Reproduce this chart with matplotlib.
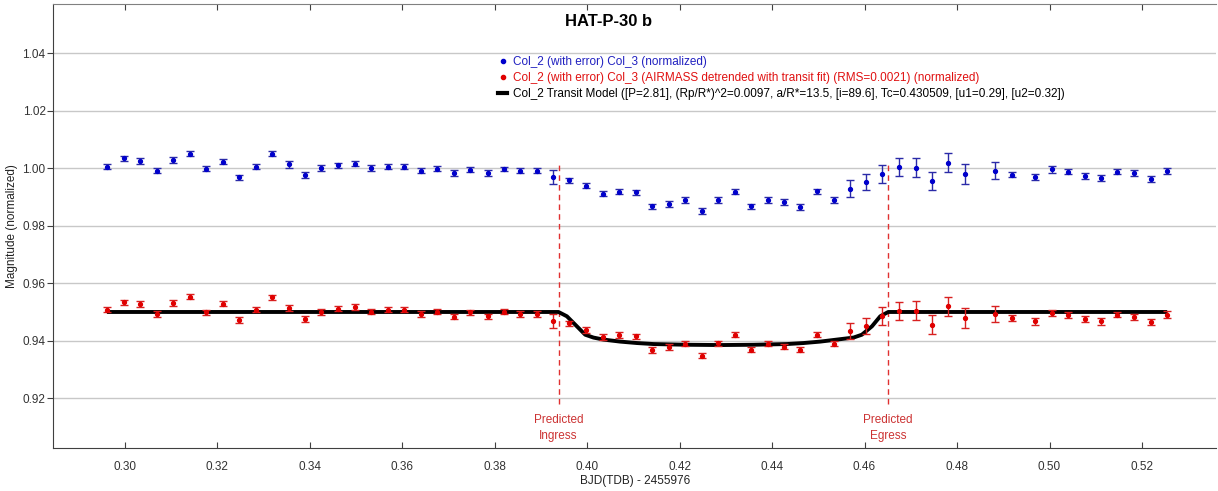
import matplotlib.pyplot as plt
from matplotlib.lines import Line2D

plt.rcParams['font.family'] = ['Liberation Sans', 'DejaVu Sans']

# BJD(TDB) - 2455976
time = [0.29619, 0.29978, 0.30339, 0.30692, 0.31053, 0.31405, 0.31760, 0.32119,
        0.32480, 0.32832, 0.33187, 0.33546, 0.33907, 0.34259, 0.34620, 0.34982,
        0.35334, 0.35695, 0.36048, 0.36400, 0.36761, 0.37129, 0.37475, 0.37849,
        0.38203, 0.38556, 0.38908, 0.39263, 0.39615, 0.39976, 0.40335, 0.40696,
        0.41049, 0.41403, 0.41762, 0.42123, 0.42484, 0.42830, 0.43189, 0.43550,
        0.43903, 0.44264, 0.44610, 0.44977, 0.45330, 0.45676, 0.46037, 0.46383,
        0.46750, 0.47103, 0.47457, 0.47816, 0.48177, 0.48826, 0.49194, 0.49685,
        0.50052, 0.50404, 0.50766, 0.51118, 0.51470, 0.51831, 0.52192, 0.52545]

# raw normalized flux
raw = [1.00045, 1.00338, 1.00254, 0.99906, 1.00278, 1.00511, 0.99976, 1.00219,
       0.99687, 1.00045, 1.00511, 1.00129, 0.99767, 1.00000, 1.00094, 1.00150,
       1.00010, 1.00045, 1.00045, 0.99906, 0.99976, 0.99836, 0.99941, 0.99836,
       0.99976, 0.99906, 0.99906, 0.99697, 0.99583, 0.99398, 0.99120, 0.99189,
       0.99165, 0.98678, 0.98758, 0.98897, 0.98514, 0.98897, 0.99189, 0.98678,
       0.98897, 0.98827, 0.98653, 0.99200, 0.98897, 0.99294, 0.99523, 0.99802,
       1.00045, 1.00024, 0.99558, 1.00198, 0.99802, 0.99920, 0.99767, 0.99687,
       0.99955, 0.99871, 0.99732, 0.99662, 0.99871, 0.99826, 0.99617, 0.99906]

# airmass detrended flux (offset for display)
detrended = [0.95072, 0.95337, 0.95281, 0.94932, 0.95302, 0.95536, 0.94988, 0.95281,
             0.94723, 0.95072, 0.95511, 0.95141, 0.94758, 0.95012, 0.95107, 0.95176,
             0.95012, 0.95082, 0.95072, 0.94932, 0.95012, 0.94838, 0.94988, 0.94848,
             0.95012, 0.94932, 0.94932, 0.94688, 0.94604, 0.94374, 0.94130, 0.94199,
             0.94150, 0.93676, 0.93780, 0.93895, 0.93477, 0.93906, 0.94210, 0.93686,
             0.93895, 0.93791, 0.93686, 0.94210, 0.93895, 0.94339, 0.94513, 0.94848,
             0.95047, 0.95047, 0.94559, 0.95197, 0.94792, 0.94932, 0.94792, 0.94674,
             0.94967, 0.94897, 0.94758, 0.94674, 0.94908, 0.94827, 0.94653, 0.94908]

err = [0.0009, 0.0008, 0.0010, 0.0009, 0.0010, 0.0008, 0.0009, 0.0009,
       0.0009, 0.0009, 0.0008, 0.0011, 0.0010, 0.0010, 0.0009, 0.0009,
       0.0009, 0.0009, 0.0009, 0.0009, 0.0009, 0.0009, 0.0009, 0.0009,
       0.0008, 0.0009, 0.0009, 0.0025, 0.0009, 0.0009, 0.0009, 0.0009,
       0.0009, 0.0009, 0.0009, 0.0009, 0.0009, 0.0009, 0.0009, 0.0009,
       0.0009, 0.0009, 0.0009, 0.0009, 0.0009, 0.0029, 0.0029, 0.0031,
       0.0031, 0.0033, 0.0032, 0.0032, 0.0034, 0.0029, 0.0009, 0.0011,
       0.0011, 0.0009, 0.0010, 0.0011, 0.0009, 0.0010, 0.0010, 0.0011]

# transit model
model_t = [0.29619, 0.39384, 0.39565, 0.39782, 0.39961, 0.40140, 0.40357, 0.40718,
           0.41079, 0.41438, 0.42160, 0.42880, 0.43600, 0.44322, 0.44681, 0.45042,
           0.45403, 0.45762, 0.45943, 0.46160, 0.46340, 0.46513, 0.52545]
model_f = [0.9500, 0.9500, 0.9485, 0.9450, 0.9421, 0.9411, 0.9404, 0.9397,
           0.9392, 0.93885, 0.9386, 0.9385, 0.9386, 0.93885, 0.9392, 0.9397,
           0.9404, 0.9411, 0.9421, 0.9450, 0.9485, 0.9500, 0.9500]

ingress = 0.39384
egress = 0.46513

fig = plt.figure(figsize=(12.18, 4.91), dpi=100)
ax = fig.add_axes([53.3 / 1218, 1 - 448 / 491, (1216 - 53.3) / 1218, 444 / 491])

ax.set_xlim(0.2846, 0.5360)
ax.set_ylim(0.9027, 1.0571)
ax.set_yticks([0.92, 0.94, 0.96, 0.98, 1.00, 1.02, 1.04])
ax.set_xticks([0.30, 0.32, 0.34, 0.36, 0.38, 0.40, 0.42, 0.44, 0.46, 0.48, 0.50, 0.52])
ax.yaxis.set_major_formatter(plt.FormatStrFormatter('%.2f'))
ax.xaxis.set_major_formatter(plt.FormatStrFormatter('%.2f'))
ax.grid(axis='y', color='#c8c8c8', lw=1)
ax.set_axisbelow(True)

ax.plot(model_t, model_f, color='black', lw=2.8, zorder=2, solid_capstyle='butt')

ax.errorbar(time, raw, yerr=err, fmt='o', ms=2.8, color='#0000cc', ecolor='#2a2aa8',
            elinewidth=1, capsize=2.6, capthick=1, zorder=3)
ax.errorbar(time, detrended, yerr=err, fmt='o', ms=2.8, color='#e00000', ecolor='#d82020',
            elinewidth=1, capsize=2.6, capthick=1, zorder=3)

ax.vlines([ingress, egress], 0.918, 1.0017, colors='#e03030', linestyles=(0, (4, 3)), lw=1, zorder=1)
ax.text(ingress, 0.9146, 'Predicted\nIngress', ha='center', va='top', color='#cc3333',
        fontsize=8.5, linespacing=1.45)
ax.text(egress, 0.9146, 'Predicted\nEgress', ha='center', va='top', color='#cc3333',
        fontsize=8.5, linespacing=1.45)

for s in ['left', 'bottom']:
    ax.spines[s].set_color('#404040')
ax.spines['top'].set_color('#808080')
ax.spines['right'].set_visible(False)
ax.tick_params(axis='x', direction='in', top=True, length=4, color='#404040',
               labelsize=8.5, labelcolor='#333333', pad=9)
ax.tick_params(axis='y', direction='out', length=4, color='#404040',
               labelsize=8.5, labelcolor='#333333', pad=1.5)

ax.set_xlabel('BJD(TDB) - 2455976', fontsize=8.5, color='#222222')
ax.xaxis.set_label_coords(0.5, -0.06)
ax.set_ylabel('Magnitude (normalized)', fontsize=8.5, color='#222222')
ax.yaxis.set_label_coords(-0.0305, 0.5)

fig.text(0.5, 1 - 22 / 491, 'HAT-P-30 b', ha='center', va='center', fontsize=12, fontweight='bold')

handles = [Line2D([], [], marker='o', ls='', ms=3, color='#0000cc'),
           Line2D([], [], marker='o', ls='', ms=3, color='#e00000'),
           Line2D([], [], color='black', lw=3)]
labels = ['Col_2 (with error) Col_3 (normalized)',
          'Col_2 (with error) Col_3 (AIRMASS detrended with transit fit) (RMS=0.0021) (normalized)',
          'Col_2 Transit Model ([P=2.81], (Rp/R*)^2=0.0097, a/R*=13.5, [i=89.6], Tc=0.430509, [u1=0.29], [u2=0.32])']
ax.legend(handles, labels, loc='upper left', bbox_to_anchor=(498 / 1218, 1 - 56 / 491),
          bbox_transform=fig.transFigure, frameon=False, fontsize=8.5, handlelength=0.8,
          handletextpad=0.5, labelspacing=0.36, borderpad=0, borderaxespad=0,
          labelcolor=['#2020c0', '#e01010', 'black'])

fig.savefig('out.png', dpi=100)
